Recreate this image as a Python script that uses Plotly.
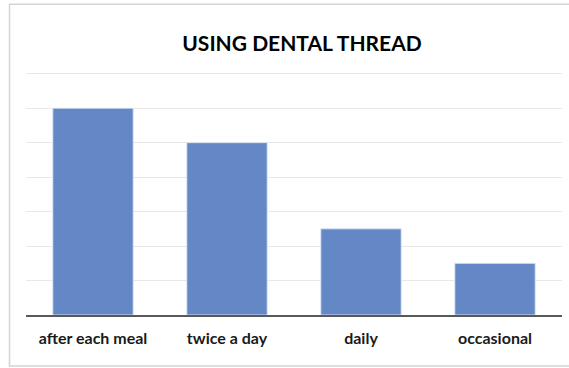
import plotly.graph_objects as go

categories = ["after each meal", "twice a day", "daily", "occasional"]
values = [6, 5, 2.5, 1.5]

W, H = 569, 368
YMAX = 7.05
L, R, B = 26, 7, 53
T = 74 - (315 - 74) * (YMAX - 7) / 7
pw, ph = W - L - R, H - T - B

def px_x(x):
    return (x - L) / pw

def px_y(y):
    return (H - B - y) / ph

fig = go.Figure(go.Bar(
    x=categories, y=values,
    marker=dict(color="#6488c6", line=dict(color="rgba(220,230,245,0.9)", width=1)),
))

fig.update_layout(
    width=W, height=H,
    margin=dict(l=L, r=R, t=T, b=B),
    paper_bgcolor="white", plot_bgcolor="white",
    bargap=0.4,
    showlegend=False,
    title=dict(text="<b>USING DENTAL THREAD</b>", x=302 / W, xref="container", xanchor="center",
               y=1 - 44 / H, yref="container", yanchor="middle",
               font=dict(family="Lato", size=21, color="#000000")),
    xaxis=dict(showline=True, linecolor="#595959", linewidth=2, ticks="",
               tickmode="array", tickvals=categories,
               ticktext=["<b>" + c + "</b>" for c in categories],
               ticklabelstandoff=8,
               tickfont=dict(family="Lato", size=16, color="#1a1a1a"),
               showgrid=False),
    yaxis=dict(range=[0, YMAX], dtick=1, showticklabels=False, showgrid=True,
               gridcolor="#e8e8e8", gridwidth=1, zeroline=False, ticks=""),
    shapes=[dict(type="rect", xref="paper", yref="paper",
                 x0=px_x(9.5), x1=px_x(575), y0=px_y(366), y1=px_y(4.5),
                 line=dict(color="#d4d4d4", width=1.5), fillcolor="rgba(0,0,0,0)", layer="below")],
)

fig.update_xaxes(tickangle=0)
fig.write_html("out.html")
